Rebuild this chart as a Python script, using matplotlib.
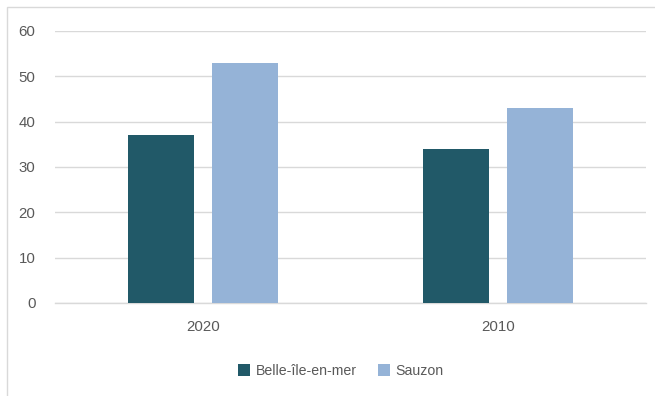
import matplotlib
matplotlib.use("Agg")
import matplotlib.pyplot as plt
import numpy as np
from matplotlib.patches import Rectangle

categories = ["2020", "2010"]
series_names = ["Belle-île-en-mer", "Sauzon"]
belle = [37, 34]
sauzon = [53, 43]
yticks = [0, 10, 20, 30, 40, 50, 60]

colors = ["#215968", "#95B3D7"]
text_color = "#595959"
grid_color = "#D9D9D9"

plt.rcParams["font.family"] = ["Liberation Sans", "DejaVu Sans"]

fig = plt.figure(figsize=(6.55, 3.96), dpi=100)
ax = fig.add_axes([55/655, 1 - 303/396, (646-55)/655, (303-31)/396])

x = np.arange(len(categories))
w = 0.223
off = w/2 + 0.0305
ax.bar(x - off, belle, w, color=colors[0], label=series_names[0], zorder=3)
ax.bar(x + off, sauzon, w, color=colors[1], label=series_names[1], zorder=3)

ax.set_xlim(-0.5, 1.5)
ax.set_ylim(0, 60)
ax.set_yticks(yticks)
ax.set_yticklabels([str(v) for v in yticks])
ax.set_xticks(x)
ax.set_xticklabels(categories)
ax.yaxis.grid(True, color=grid_color, linewidth=1.0, zorder=0)
ax.set_axisbelow(True)
for s in ["top", "right", "left"]:
    ax.spines[s].set_visible(False)
ax.spines["bottom"].set_color(grid_color)
ax.spines["bottom"].set_linewidth(1.0)
ax.tick_params(axis="both", length=0, labelsize=10.8, colors=text_color)
ax.tick_params(axis="y", pad=14)
ax.tick_params(axis="x", pad=12)

leg = fig.legend(loc="center", bbox_to_anchor=(341/655, 1 - 371/396), ncol=2,
                 frameon=False, fontsize=10.2, handlelength=0.85, handleheight=0.85,
                 handletextpad=0.4, columnspacing=1.5)
for t in leg.get_texts():
    t.set_color(text_color)

fig.patches.append(Rectangle((7/655, -0.1), 1.0, (1 - 7/396) + 0.1,
                             transform=fig.transFigure, fill=False,
                             edgecolor=grid_color, linewidth=1.0))

fig.savefig("out.png", dpi=100)
